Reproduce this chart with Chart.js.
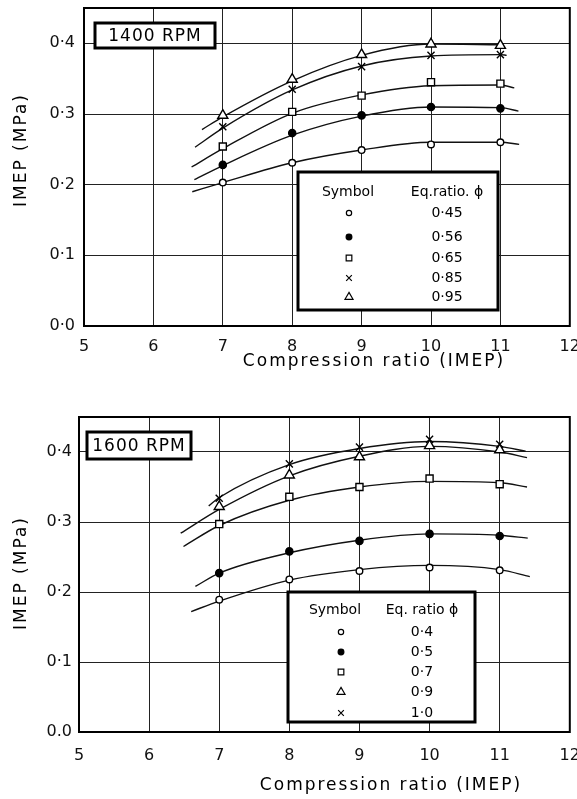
<!DOCTYPE html>
<html><head><meta charset="utf-8">
<script src="https://cdn.jsdelivr.net/npm/chart.js@4.4.1/dist/chart.umd.min.js"></script>
<style>
html,body{margin:0;padding:0;background:#fff;}
#wrap{position:relative;width:577px;height:799px;background:#fff;}
canvas{position:absolute;left:0;}
</style></head><body>
<div id="wrap">
<canvas id="c1400" width="577" height="399" style="top:0px"></canvas>
<canvas id="c1600" width="577" height="399" style="top:400px"></canvas>
</div>
<script>
// ---------- data ----------
const compressionRatio = [7, 8, 9, 10, 11];
const xTicks = [5, 6, 7, 8, 9, 10, 11, 12];
const xTickLabels = ['5', '6', '7', '8', '9', '10', '11', '12'];
const yTicks = [0, 0.1, 0.2, 0.3, 0.4];
const yTickLabels1400 = ['0·0', '0·1', '0·2', '0·3', '0·4'];
const yTickLabels1600 = ['0.0', '0·1', '0·2', '0·3', '0·4'];

// 1400 RPM – measured points
const phiLabels1400 = ['0·45', '0·56', '0·65', '0·85', '0·95'];
const imep1400_045 = [0.203, 0.231, 0.249, 0.257, 0.260];
const imep1400_056 = [0.228, 0.273, 0.298, 0.310, 0.308];
const imep1400_065 = [0.254, 0.303, 0.326, 0.345, 0.343];
const imep1400_085 = [0.282, 0.335, 0.367, 0.383, 0.384];
const imep1400_095 = [0.298, 0.349, 0.384, 0.399, 0.397];
// 1400 RPM – fitted curves [compression ratio, IMEP]
const fit1400_045 = [[6.56, 0.190], [7, 0.203], [8, 0.231], [9, 0.249], [10, 0.260], [11, 0.260], [11.27, 0.257]];
const fit1400_056 = [[6.59, 0.207], [7, 0.227], [8, 0.270], [9, 0.297], [10, 0.310], [11, 0.309], [11.26, 0.304]];
const fit1400_065 = [[6.55, 0.225], [7, 0.251], [8, 0.301], [9, 0.327], [10, 0.340], [11, 0.341], [11.2, 0.337]];
const fit1400_085 = [[6.60, 0.253], [7, 0.280], [8, 0.334], [9, 0.368], [10, 0.382], [11, 0.384], [11.09, 0.383]];
const fit1400_095 = [[6.70, 0.278], [7, 0.296], [8, 0.347], [9, 0.383], [10, 0.399], [11, 0.398]];

// 1600 RPM – measured points
const phiLabels1600 = ['0·4', '0·5', '0·7', '0·9', '1·0'];
const imep1600_04 = [0.189, 0.218, 0.230, 0.235, 0.231];
const imep1600_05 = [0.227, 0.258, 0.273, 0.283, 0.280];
const imep1600_07 = [0.297, 0.336, 0.350, 0.362, 0.354];
const imep1600_09 = [0.322, 0.367, 0.393, 0.409, 0.403];
const imep1600_10 = [0.334, 0.383, 0.407, 0.418, 0.411];
// 1600 RPM – fitted curves
const fit1600_04 = [[6.60, 0.172], [7, 0.187], [8, 0.217], [9, 0.232], [10, 0.238], [11, 0.232], [11.43, 0.222]];
const fit1600_05 = [[6.66, 0.208], [7, 0.227], [8, 0.256], [9, 0.274], [10, 0.283], [11, 0.281], [11.4, 0.277]];
const fit1600_07 = [[6.49, 0.265], [7, 0.295], [8, 0.331], [9, 0.350], [10, 0.358], [11, 0.356], [11.39, 0.350]];
const fit1600_09 = [[6.45, 0.284], [7, 0.318], [8, 0.366], [9, 0.394], [10, 0.408], [11, 0.400], [11.39, 0.392]];
const fit1600_10 = [[6.85, 0.323], [7, 0.335], [8, 0.382], [9, 0.405], [10, 0.415], [11, 0.408], [11.37, 0.401]];

const xTitle = 'Compression ratio (IMEP)';
const yTitle = 'IMEP (MPa)';

// ---------- styles ----------
const FONT = '"DejaVu Sans", "Liberation Sans", sans-serif';
const MK = {
  openCircle: { style: 'circle', r: 3.3, fill: '#fff' },
  dot: { style: 'circle', r: 3.6, fill: '#000' },
  square: { style: 'rect', r: 5, fill: '#fff' },
  cross: { style: 'crossRot', r: 5, fill: '#fff' },
  triangle: { style: 'triangle', r: 5.8, fill: '#fff' }
};

function buildChart(id, cfg) {
  const W = 577, H = 399, A = cfg.area;
  const datasets = [];
  cfg.series.forEach(s => {
    datasets.push({
      data: s.fit.map(p => ({ x: p[0], y: p[1] })),
      showLine: true, pointRadius: 0, borderColor: '#111', borderWidth: 1.4,
      tension: 0.4, cubicInterpolationMode: 'monotone', order: 2
    });
    datasets.push({
      label: s.label,
      data: compressionRatio.map((x, i) => ({ x: x, y: s.values[i] })),
      showLine: false, pointStyle: s.mk.style, pointRadius: s.mk.r,
      pointBackgroundColor: s.mk.fill, pointBorderColor: '#000', pointBorderWidth: 1.4, order: 1
    });
  });

  const deco = {
    id: 'deco',
    afterDraw(chart) {
      const ctx = chart.ctx, ca = chart.chartArea;
      ctx.save();
      // frame
      ctx.strokeStyle = '#000'; ctx.lineWidth = 2;
      ctx.strokeRect(ca.left, ca.top, ca.right - ca.left, ca.bottom - ca.top);
      // rpm box
      const b = cfg.rpmBox;
      ctx.fillStyle = '#fff'; ctx.fillRect(b.x, b.y, b.w, b.h);
      ctx.lineWidth = 3; ctx.strokeRect(b.x, b.y, b.w, b.h);
      ctx.fillStyle = '#000'; ctx.font = '17px ' + FONT;
      ctx.letterSpacing = '1px';
      ctx.textAlign = 'center'; ctx.textBaseline = 'middle';
      ctx.fillText(cfg.rpm, b.x + b.w / 2, b.y + b.h / 2 + 1);
      // legend box
      const L = cfg.legend;
      ctx.letterSpacing = '0px';
      ctx.fillStyle = '#fff'; ctx.fillRect(L.x, L.y, L.w, L.h);
      ctx.lineWidth = 3; ctx.strokeStyle = '#000'; ctx.strokeRect(L.x, L.y, L.w, L.h);
      ctx.fillStyle = '#000'; ctx.font = '14px ' + FONT;
      ctx.fillText('Symbol', L.symX, L.headY);
      ctx.fillText(L.head, L.valX, L.headY);
      L.order.forEach((si, row) => {
        const s = cfg.series[si];
        const y = L.rows[row];
        ctx.fillStyle = '#000';
        ctx.fillText(s.label, L.valX, y);
        ctx.fillStyle = s.mk.fill; ctx.strokeStyle = '#000'; ctx.lineWidth = 1.2;
        Chart.helpers.drawPoint(ctx, { pointStyle: s.mk.style, radius: s.mk.r * 0.8, rotation: 0, borderWidth: 1.2 }, L.mkX, y);
      });
      // axis titles
      ctx.fillStyle = '#000'; ctx.font = '17px ' + FONT;
      ctx.letterSpacing = '2px';
      ctx.textAlign = 'center'; ctx.textBaseline = 'middle';
      ctx.fillText(xTitle, cfg.xTitle.x, cfg.xTitle.y);
      ctx.translate(cfg.yTitle.x, cfg.yTitle.y);
      ctx.rotate(-Math.PI / 2);
      ctx.fillText(yTitle, 0, 0);
      ctx.restore();
    }
  };

  return new Chart(document.getElementById(id), {
    type: 'scatter',
    data: { datasets },
    options: {
      responsive: false, animation: false, devicePixelRatio: 1,
      layout: { padding: { left: 0, right: W - A.right, top: A.top, bottom: 0 } },
      plugins: { legend: { display: false }, tooltip: { enabled: false } },
      scales: {
        x: {
          type: 'linear', min: 5, max: 12,
          afterBuildTicks: sc => { sc.ticks = xTicks.map(v => ({ value: v })); },
          afterFit: sc => { sc.height = H - A.bottom; sc.paddingLeft = 0; sc.paddingRight = 0; },
          grid: { color: '#222', lineWidth: 1, drawTicks: false },
          border: { display: true, color: '#000', width: 2 },
          ticks: { padding: cfg.xPad, color: '#111', font: { family: FONT, size: 16 }, autoSkip: false, maxRotation: 0,
                   callback: (v, i) => xTickLabels[i] }
        },
        y: {
          type: 'linear', min: 0, max: 0.45,
          afterBuildTicks: sc => { sc.ticks = yTicks.map(v => ({ value: v })); },
          afterFit: sc => { sc.width = A.left; sc.paddingTop = 0; sc.paddingBottom = 0; },
          grid: { color: '#222', lineWidth: 1, drawTicks: false },
          border: { display: true, color: '#000', width: 2 },
          ticks: { padding: cfg.yPad, color: '#111', font: { family: FONT, size: 16 },
                   callback: (v, i) => cfg.yLabels[i] }
        }
      }
    },
    plugins: [deco]
  });
}

buildChart('c1400', {
  area: { left: 84, right: 573, top: 8, bottom: 326 },
  xPad: 11, yPad: 9, yLabels: yTickLabels1400,
  rpm: '1400 RPM', rpmBox: { x: 95, y: 23, w: 120, h: 25 },
  xTitle: { x: 374, y: 362 }, yTitle: { x: 22, y: 150 },
  series: [
    { label: phiLabels1400[0], values: imep1400_045, fit: fit1400_045, mk: MK.openCircle },
    { label: phiLabels1400[1], values: imep1400_056, fit: fit1400_056, mk: MK.dot },
    { label: phiLabels1400[2], values: imep1400_065, fit: fit1400_065, mk: MK.square },
    { label: phiLabels1400[3], values: imep1400_085, fit: fit1400_085, mk: MK.cross },
    { label: phiLabels1400[4], values: imep1400_095, fit: fit1400_095, mk: MK.triangle }
  ],
  legend: { x: 298, y: 172, w: 200, h: 138, head: 'Eq.ratio. ϕ', headY: 192, symX: 348, valX: 447, mkX: 349,
            rows: [213, 237, 258, 278, 297], order: [0, 1, 2, 3, 4] }
});

buildChart('c1600', {
  area: { left: 79, right: 571, top: 17, bottom: 332 },
  xPad: 14, yPad: 7, yLabels: yTickLabels1600,
  rpm: '1600 RPM', rpmBox: { x: 87, y: 32, w: 104, h: 27 },
  xTitle: { x: 391, y: 386 }, yTitle: { x: 22, y: 173 },
  series: [
    { label: phiLabels1600[0], values: imep1600_04, fit: fit1600_04, mk: MK.openCircle },
    { label: phiLabels1600[1], values: imep1600_05, fit: fit1600_05, mk: MK.dot },
    { label: phiLabels1600[2], values: imep1600_07, fit: fit1600_07, mk: MK.square },
    { label: phiLabels1600[3], values: imep1600_09, fit: fit1600_09, mk: MK.triangle },
    { label: phiLabels1600[4], values: imep1600_10, fit: fit1600_10, mk: MK.cross }
  ],
  legend: { x: 288, y: 192, w: 187, h: 130, head: 'Eq. ratio ϕ', headY: 210, symX: 335, valX: 422, mkX: 341,
            rows: [232, 252, 272, 292, 313], order: [0, 1, 2, 3, 4] }
});
</script>
</body></html>
